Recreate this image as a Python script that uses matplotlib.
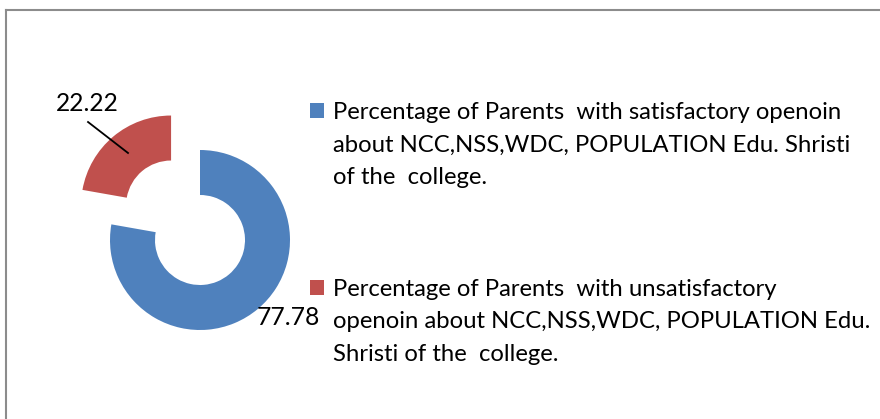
import matplotlib.pyplot as plt
from matplotlib.patches import Rectangle

plt.rcParams['font.family'] = ['Lato', 'DejaVu Sans']

labels = [
    "Percentage of Parents  with satisfactory openoin\nabout NCC,NSS,WDC, POPULATION Edu. Shristi\nof the  college.",
    "Percentage of Parents  with unsatisfactory\nopenoin about NCC,NSS,WDC, POPULATION Edu.\nShristi of the  college.",
]
values = [77.78, 22.22]
value_text = ["77.78", "22.22"]
colors = ["#4F81BD", "#C0504D"]

W, H = 880, 419
fig = plt.figure(figsize=(W / 100, H / 100), dpi=100)

# chart border (right and bottom run off the picture)
fig.add_artist(plt.Line2D([5.5 / W, 5.5 / W], [0, 1 - 10.5 / H], color="#8c8c8c", lw=1.5))
fig.add_artist(plt.Line2D([5.5 / W, 1], [1 - 10.5 / H, 1 - 10.5 / H], color="#8c8c8c", lw=1.5))

# donut, centre at (200, 240) px, radius 90 px
lim = 1.8
r_px = 90
cx, cy = 200, H - 240
ax = fig.add_axes([(cx - lim * r_px) / W, (cy - lim * r_px) / H,
                   2 * lim * r_px / W, 2 * lim * r_px / H])
ax.pie(values, colors=colors, startangle=90, counterclock=False,
       explode=[0, 0.5], radius=1, wedgeprops=dict(width=0.5, linewidth=0))
ax.set_xlim(-lim, lim)
ax.set_ylim(-lim, lim)
ax.set_aspect("equal")
ax.axis("off")

fs = 17.2
ax.text(0.978, -0.944, value_text[0], fontsize=17.7, ha="center", va="baseline")
ax.text(-1.256, 1.433, value_text[1], fontsize=17.7, ha="center", va="baseline")
ax.plot([-1.244, -0.8], [1.311, 0.967], color="black", lw=1.3)

# legend: square top, baseline of the last text line
rows = [(103, 184), (280, 361)]
for lab, col, (top, base) in zip(labels, colors, rows):
    fig.add_artist(Rectangle((310 / W, 1 - (top + 15) / H), 14 / W, 15 / H,
                             transform=fig.transFigure, color=col, lw=0))
    fig.text(333 / W, 1 - base / H, lab, fontsize=fs, va="baseline", ha="left",
             linespacing=1.68)

fig.savefig("out.png", dpi=100)
